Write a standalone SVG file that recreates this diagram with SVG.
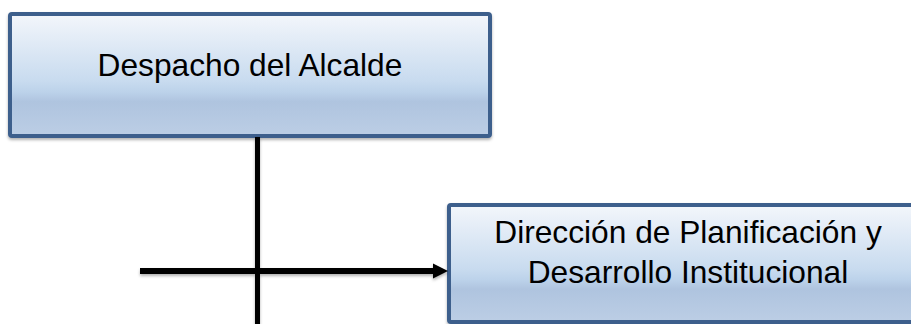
<svg xmlns="http://www.w3.org/2000/svg" width="911" height="324" viewBox="0 0 911 324">
<style>
.box{stroke:#3c5f8c;stroke-width:4;fill:url(#g)}
.lbl{font-family:"Liberation Sans",Arial,sans-serif;font-size:31.7px;fill:#000;text-anchor:middle}
.conn{stroke:#000;fill:none}
</style>
<defs>
<linearGradient id="g" x1="0" y1="0" x2="0" y2="1">
<stop offset="0" stop-color="#f3f6fb"/>
<stop offset="0.55" stop-color="#c8dbef"/>
<stop offset="0.64" stop-color="#bcd2ea"/>
<stop offset="0.72" stop-color="#afc4df"/>
<stop offset="1" stop-color="#bccee5"/>
</linearGradient>
<filter id="sh" x="-10%" y="-10%" width="130%" height="140%">
<feDropShadow dx="0" dy="2" stdDeviation="1.5" flood-color="#000" flood-opacity="0.3"/>
</filter>
<marker id="arr" markerUnits="userSpaceOnUse" markerWidth="16" markerHeight="16" refX="0" refY="8" orient="auto">
<path d="M0,0.5 L15,8 L0,15.5 Z" fill="#000"/>
</marker>
</defs>
<g id="node-despacho">
<rect class="box" x="10" y="14" width="480" height="122" rx="2" filter="url(#sh)"/>
<text class="lbl" x="250" y="76">Despacho del Alcalde</text>
</g>
<g id="node-direccion">
<rect class="box" x="449" y="205" width="478" height="117" rx="2" filter="url(#sh)"/>
<text class="lbl" x="688" y="243">Dirección de Planificación y</text>
<text class="lbl" x="688" y="283">Desarrollo Institucional</text>
</g>
<g id="connectors" filter="url(#sh)">
<line class="conn" x1="257.5" y1="137" x2="257.5" y2="324" stroke-width="5"/>
<line class="conn" x1="140" y1="271" x2="433" y2="271" stroke-width="6" marker-end="url(#arr)"/>
</g>
</svg>
